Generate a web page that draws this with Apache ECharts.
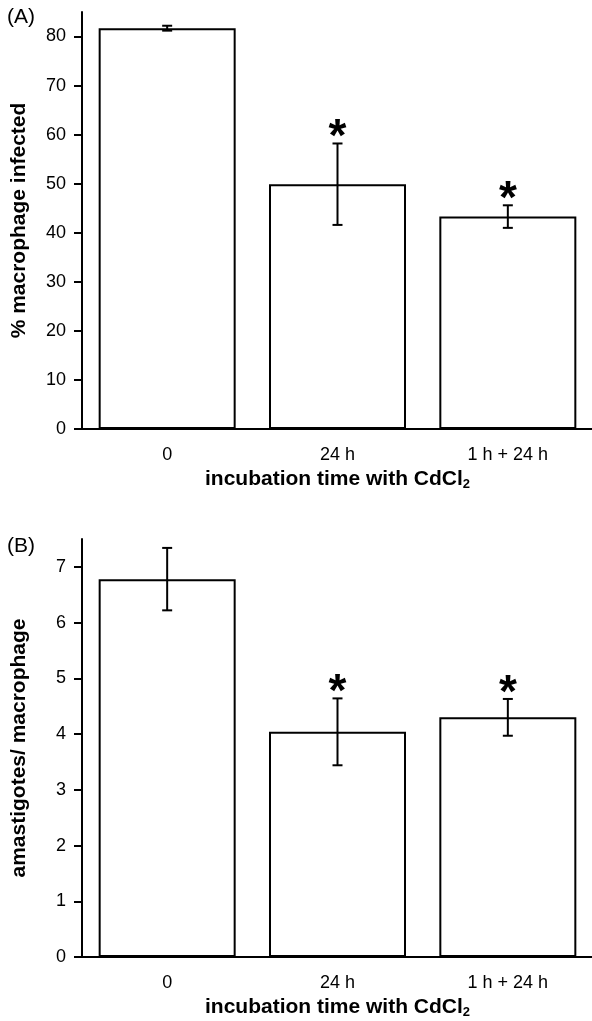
<!DOCTYPE html>
<html>
<head>
<meta charset="utf-8">
<script src="https://cdn.jsdelivr.net/npm/echarts@6/dist/echarts.min.js"></script>
<style>
  html, body { margin: 0; padding: 0; background: #fff; }
  #chart { width: 592px; height: 1021px; }
</style>
</head>
<body>
<div id="chart"></div>
<script>
const categories = ['0', '24 h', '1 h + 24 h'];

// panel A: % macrophage infected
const infectedMean = [81.7, 49.9, 43.3];
const infectedErr = [0.5, 8.3, 2.3];
const infectedStar = ['', '*', '*'];
const ticksA = [0, 10, 20, 30, 40, 50, 60, 70, 80];

// panel B: amastigotes / macrophage
const amastMean = [6.78, 4.04, 4.30];
const amastErr = [0.56, 0.60, 0.33];
const amastStar = ['', '*', '*'];
const ticksB = [0, 1, 2, 3, 4, 5, 6, 7];

const FONT = 'Liberation Sans, Arial, sans-serif';
const black = '#000';

// error bar + asterisk drawn through the axis scale
function errorItem(params, api) {
  const x = api.value(0);
  const m = api.value(1);
  const e = api.value(2);
  const star = api.value(3);
  const top = api.coord([x, m + e]);
  const bot = api.coord([x, m - e]);
  const w = 5;
  const style = { stroke: black, lineWidth: 2 };
  const children = [
    { type: 'line', shape: { x1: top[0], y1: top[1], x2: bot[0], y2: bot[1] }, style },
    { type: 'line', shape: { x1: top[0] - w, y1: top[1], x2: top[0] + w, y2: top[1] }, style },
    { type: 'line', shape: { x1: bot[0] - w, y1: bot[1], x2: bot[0] + w, y2: bot[1] }, style }
  ];
  if (star) {
    children.push({
      type: 'text',
      style: {
        text: star, x: top[0], y: top[1] - 5,
        fill: black, font: 'bold 46px ' + FONT,
        align: 'center', verticalAlign: 'middle'
      }
    });
  }
  return { type: 'group', children };
}

function xAxes(gridIndex) {
  const base = {
    type: 'category', gridIndex, data: categories, position: 'bottom',
    axisLine: { lineStyle: { color: black, width: 2 } }
  };
  return [
    Object.assign({}, base, {
      axisTick: { alignWithLabel: true, inside: false, length: 8, lineStyle: { color: black, width: 2 } },
      axisLabel: { color: black, fontFamily: FONT, fontSize: 18, margin: 17 },
      name: 'incubation time with CdCl{sub|2}',
      nameLocation: 'middle',
      nameGap: 38,
      nameTextStyle: {
        color: black, fontFamily: FONT, fontSize: 21, fontWeight: 'bold',
        rich: { sub: { fontSize: 13, fontWeight: 'bold', fontFamily: FONT, color: black, padding: [11, 0, 0, 0] } }
      }
    }),
    Object.assign({}, base, {
      axisLine: { show: false },
      axisTick: { alignWithLabel: false, length: 4, lineStyle: { color: black, width: 2 } },
      axisLabel: { show: false }
    })
  ];
}

function yAxes(gridIndex, max, major, minor, ticks, name) {
  return [
    {
      type: 'value', gridIndex, min: 0, max, interval: major,
      axisLine: { show: true, lineStyle: { color: black, width: 2 } },
      axisTick: { show: true, length: 8, customValues: ticks, lineStyle: { color: black, width: 2 } },
      axisLabel: { color: black, fontFamily: FONT, fontSize: 18, margin: 16, customValues: ticks },
      splitLine: { show: false },
      name, nameLocation: 'middle', nameGap: 52,
      nameTextStyle: { color: black, fontFamily: FONT, fontSize: 21, fontWeight: 'bold' }
    },
    {
      type: 'value', gridIndex, min: 0, max, interval: minor,
      axisLine: { show: false },
      axisTick: { show: true, length: 4, lineStyle: { color: black, width: 2 } },
      axisLabel: { show: false },
      splitLine: { show: false }
    }
  ];
}

const chart = echarts.init(document.getElementById('chart'), null, { renderer: 'canvas' });

const option = {
  animation: false,
  backgroundColor: '#fff',
  graphic: [
    { type: 'text', left: 7, top: 7, style: { text: '(A)', font: '21px ' + FONT, fill: black } },
    { type: 'text', left: 7, top: 536, style: { text: '(B)', font: '21px ' + FONT, fill: black } }
  ],
  grid: [
    { left: 82, top: 12, width: 511, height: 417, outerBoundsMode: 'none', containLabel: false },
    { left: 82, top: 539, width: 511, height: 418, outerBoundsMode: 'none', containLabel: false }
  ],
  xAxis: [...xAxes(0), ...xAxes(1)],
  yAxis: [
    ...yAxes(0, 85, 10, 5, ticksA, '% macrophage infected'),
    ...yAxes(1, 7.5, 1, 0.5, ticksB, 'amastigotes/ macrophage')
  ],
  series: [
    {
      type: 'bar', xAxisIndex: 0, yAxisIndex: 0, data: infectedMean, barWidth: 137,
      itemStyle: { color: '#fff', borderColor: black, borderWidth: 2 }
    },
    {
      type: 'custom', xAxisIndex: 0, yAxisIndex: 0, z: 5,
      data: infectedMean.map((v, i) => [i, v, infectedErr[i], infectedStar[i]]),
      renderItem: errorItem
    },
    {
      type: 'bar', xAxisIndex: 2, yAxisIndex: 2, data: amastMean, barWidth: 137,
      itemStyle: { color: '#fff', borderColor: black, borderWidth: 2 }
    },
    {
      type: 'custom', xAxisIndex: 2, yAxisIndex: 2, z: 5,
      data: amastMean.map((v, i) => [i, v, amastErr[i], amastStar[i]]),
      renderItem: errorItem
    }
  ]
};

chart.setOption(option);
</script>
</body>
</html>
